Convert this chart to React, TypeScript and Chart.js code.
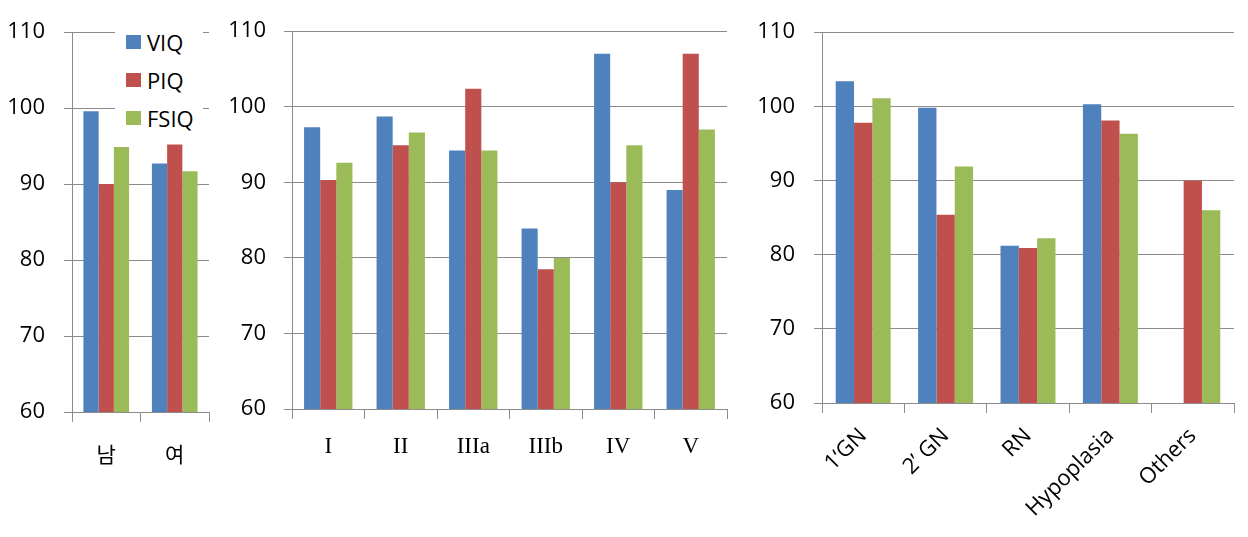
import React, { useEffect, useRef } from "react";
import { Chart, registerables } from "chart.js";
Chart.register(...registerables);

const seriesNames = ["VIQ", "PIQ", "FSIQ"];
const seriesColors = ["#4F81BD", "#C0504D", "#9BBB59"];

const sexLabels = ["남", "여"];
const sexVIQ = [99.6, 92.7];
const sexPIQ = [90.0, 95.2];
const sexFSIQ = [94.9, 91.7];

const gradeLabels = ["I", "II", "IIIa", "IIIb", "IV", "V"];
const gradeVIQ = [97.3, 98.7, 94.2, 83.9, 107.0, 89.0];
const gradePIQ = [90.3, 94.9, 102.4, 78.5, 90.0, 107.0];
const gradeFSIQ = [92.6, 96.6, 94.2, 80.0, 94.9, 97.0];

const causeLabels = ["1‘GN", "2’ GN", "RN", "Hypoplasia", "Others"];
const causeVIQ = [103.4, 99.8, 81.2, 100.3, null];
const causePIQ = [97.8, 85.4, 80.9, 98.1, 90.0];
const causeFSIQ = [101.1, 91.9, 82.2, 96.3, 86.0];

const yMin = 60;
const yMax = 110;
const yStep = 10;

const H = 537;
const GRID = "#8C8C8C";
const SANS = '"Open Sans", "Noto Sans CJK KR", sans-serif';
const CJK = '"Noto Sans CJK KR", "Open Sans", sans-serif';
const SERIF = '"Liberation Serif", "DejaVu Serif", serif';

type PanelProps = {
  left: number;
  width: number;
  yWidth: number;
  top: number;
  bottom: number;
  rightPad: number;
  labels: string[];
  values: (number | null)[][];
  xFontFamily: string;
  xFontSize: number;
  rotation: number;
  xPad: number;
  yPad: number;
};

function Panel(p: PanelProps) {
  const ref = useRef<HTMLCanvasElement | null>(null);
  useEffect(() => {
    if (!ref.current) return;
    const chart = new Chart(ref.current, {
      type: "bar",
      data: {
        labels: p.labels,
        datasets: p.values.map((v, i) => ({
          label: seriesNames[i],
          data: v,
          backgroundColor: seriesColors[i],
          borderWidth: 0,
          categoryPercentage: 0.667,
          barPercentage: 1.0,
        })),
      },
      options: {
        responsive: false,
        animation: false,
        devicePixelRatio: 1,
        layout: { padding: { top: p.top, right: p.rightPad, left: 0, bottom: 0 } },
        plugins: { legend: { display: false }, tooltip: { enabled: false } },
        scales: {
          x: {
            afterFit: (s: any) => {
              s.height = H - p.bottom;
            },
            grid: {
              drawOnChartArea: false,
              drawTicks: true,
              tickLength: 10,
              color: GRID,
              offset: true,
            },
            border: { display: true, color: GRID, width: 1 },
            ticks: {
              color: "#000",
              font: { family: p.xFontFamily, size: p.xFontSize },
              padding: p.xPad,
              autoSkip: false,
              minRotation: p.rotation,
              maxRotation: p.rotation,
            },
          },
          y: {
            min: yMin,
            max: yMax,
            afterFit: (s: any) => {
              s.width = p.yWidth;
            },
            grid: { color: GRID, tickLength: 8, lineWidth: 1 },
            border: { display: true, color: GRID, width: 1 },
            ticks: {
              stepSize: yStep,
              color: "#000",
              font: { family: SANS, size: 22 },
              padding: p.yPad,
            },
          },
        },
      },
    });
    return () => chart.destroy();
  }, []);
  return (
    <canvas
      ref={ref}
      width={p.width}
      height={H}
      style={{ position: "absolute", left: p.left, top: 0, width: p.width, height: H }}
    />
  );
}

function Legend() {
  const items = [24, 62, 100];
  return (
    <div
      style={{
        position: "absolute",
        left: 115,
        top: 18,
        width: 88,
        height: 118,
        background: "#fff",
      }}
    >
      {seriesNames.map((n, i) => (
        <div key={n}>
          <div
            style={{
              position: "absolute",
              left: 11,
              top: items[i] - 7,
              width: 15,
              height: 14,
              background: seriesColors[i],
            }}
          />
          <div
            style={{
              position: "absolute",
              left: 32,
              top: items[i] - 15,
              height: 30,
              lineHeight: "30px",
              fontFamily: SANS,
              fontSize: 22,
              color: "#000",
              whiteSpace: "nowrap",
            }}
          >
            {n}
          </div>
        </div>
      ))}
    </div>
  );
}

export default function App() {
  return (
    <div
      style={{
        position: "absolute",
        left: 0,
        top: 0,
        width: 1248,
        height: H,
        background: "#fff",
        overflow: "hidden",
      }}
    >
      <Panel
        left={0}
        width={225}
        yWidth={72}
        top={27}
        bottom={412}
        rightPad={16}
        labels={sexLabels}
        values={[sexVIQ, sexPIQ, sexFSIQ]}
        xFontFamily={CJK}
        xFontSize={21}
        rotation={0}
        xPad={19}
        yPad={19}
      />
      <Legend />
      <Panel
        left={225}
        width={515}
        yWidth={67}
        top={22}
        bottom={409}
        rightPad={13}
        labels={gradeLabels}
        values={[gradeVIQ, gradePIQ, gradeFSIQ]}
        xFontFamily={SERIF}
        xFontSize={23}
        rotation={0}
        xPad={14}
        yPad={18}
      />
      <Panel
        left={740}
        width={508}
        yWidth={82}
        top={23}
        bottom={403}
        rightPad={14}
        labels={causeLabels}
        values={[causeVIQ, causePIQ, causeFSIQ]}
        xFontFamily={SANS}
        xFontSize={22}
        rotation={45}
        xPad={10}
        yPad={19}
      />
    </div>
  );
}
